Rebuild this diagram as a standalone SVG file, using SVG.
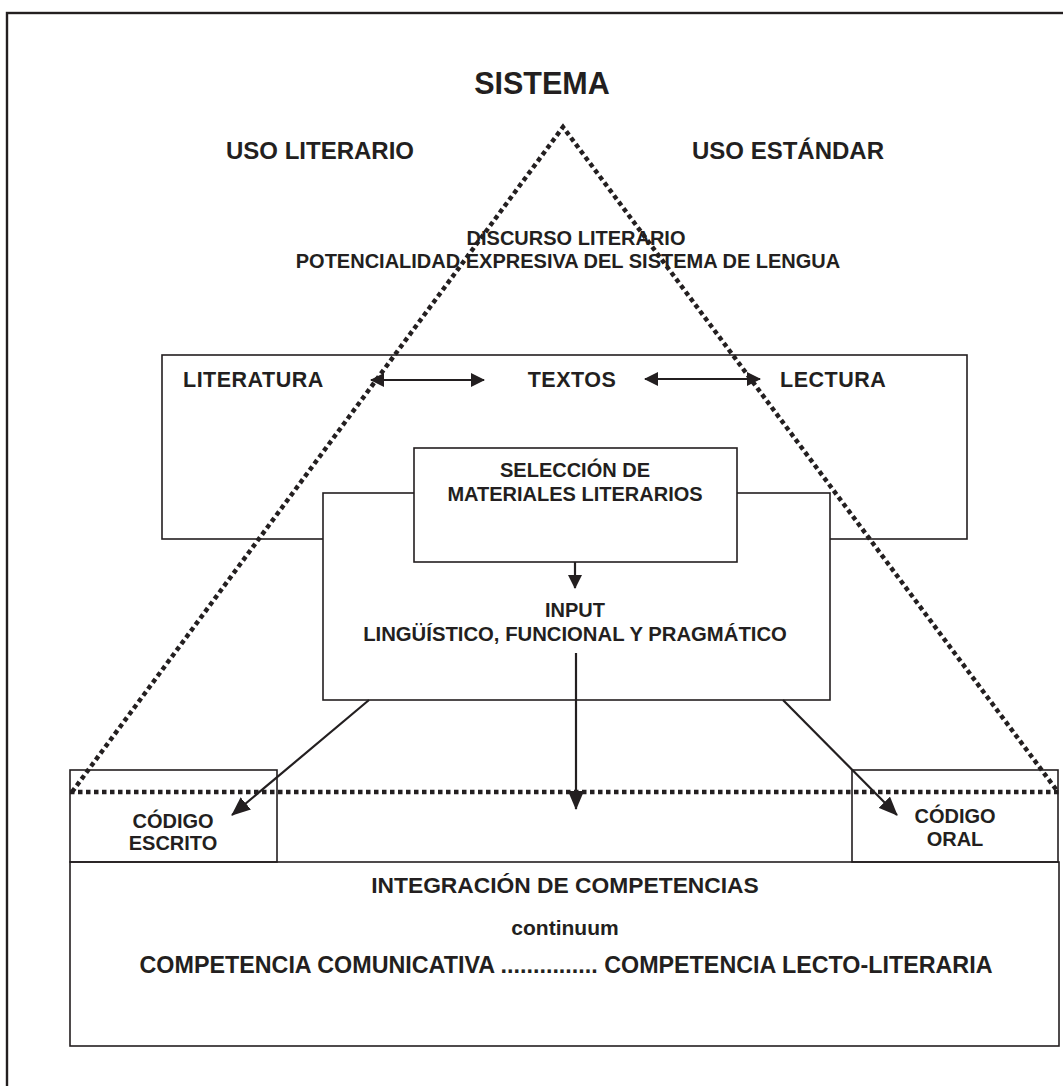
<svg xmlns="http://www.w3.org/2000/svg" width="1063" height="1086" viewBox="0 0 1063 1086">
  <style>
    .t { font-family: "Liberation Sans", Arial, sans-serif; font-weight: bold; fill: #231f20; }
    .box { fill: #ffffff; stroke: #231f20; stroke-width: 1.6; }
    .open { fill: none; stroke: #231f20; stroke-width: 1.6; }
    .dots { fill: none; stroke: #231f20; stroke-width: 4.5; stroke-dasharray: 4.5 3.5; }
    .arr { fill: none; stroke: #231f20; stroke-width: 2.2; }
  </style>
  <defs>
    <marker id="head" viewBox="0 0 14 14" refX="13" refY="7" markerWidth="14" markerHeight="14" markerUnits="userSpaceOnUse" orient="auto-start-reverse">
      <path d="M0,0 L14,7 L0,14 Z" fill="#231f20"/>
    </marker>
    <marker id="bighead" viewBox="0 0 19 16" refX="18" refY="8" markerWidth="19" markerHeight="16" markerUnits="userSpaceOnUse" orient="auto">
      <path d="M0,0 L19,8 L0,16 Z" fill="#231f20"/>
    </marker>
  </defs>

  <rect width="1063" height="1086" fill="#ffffff"/>
  <!-- outer frame -->
  <rect x="7" y="13" width="1070" height="1090" fill="none" stroke="#231f20" stroke-width="2.4"/>

  <!-- headings -->
  <g id="sistema"><text class="t" x="542" y="94" font-size="30.5" text-anchor="middle">SISTEMA</text></g>
  <g id="uso-literario"><text class="t" x="320" y="159" font-size="24" text-anchor="middle">USO LITERARIO</text></g>
  <g id="uso-estandar"><text class="t" x="788" y="159" font-size="24" text-anchor="middle">USO ESTÁNDAR</text></g>
  <g id="discurso">
    <text class="t" x="576" y="245" font-size="20" text-anchor="middle">DISCURSO LITERARIO</text>
    <text class="t" x="568" y="268" font-size="20" text-anchor="middle">POTENCIALIDAD EXPRESIVA DEL SISTEMA DE LENGUA</text>
  </g>

  <!-- textos frame -->
  <g id="textos-frame">
    <rect class="open" x="162" y="355" width="805" height="184"/>
    <text class="t" x="183" y="387" font-size="21.5" letter-spacing="0.5">LITERATURA</text>
    <text class="t" x="572" y="387" font-size="21.5" letter-spacing="0.5" text-anchor="middle">TEXTOS</text>
    <text class="t" x="780" y="387" font-size="21.5" letter-spacing="0.5">LECTURA</text>
  </g>

  <!-- input box -->
  <g id="input">
    <rect class="box" x="323" y="493" width="507" height="207"/>
    <text class="t" x="575" y="617" font-size="20" text-anchor="middle">INPUT</text>
    <text class="t" x="575" y="641" font-size="20.3" text-anchor="middle">LINGÜÍSTICO, FUNCIONAL Y PRAGMÁTICO</text>
  </g>

  <!-- selection box -->
  <g id="seleccion">
    <rect class="box" x="414" y="448" width="323" height="114"/>
    <text class="t" x="575" y="477" font-size="20" text-anchor="middle">SELECCIÓN DE</text>
    <text class="t" x="575" y="501" font-size="20" text-anchor="middle">MATERIALES LITERARIOS</text>
  </g>

  <!-- bottom boxes -->
  <g id="codigo-escrito">
    <rect class="open" x="70" y="770" width="207" height="92"/>
    <text class="t" x="173" y="828" font-size="20" text-anchor="middle">CÓDIGO</text>
    <text class="t" x="173" y="850" font-size="20" text-anchor="middle">ESCRITO</text>
  </g>
  <g id="codigo-oral">
    <rect class="open" x="852" y="770" width="206" height="92"/>
    <text class="t" x="955" y="823" font-size="20" text-anchor="middle">CÓDIGO</text>
    <text class="t" x="955" y="846" font-size="20" text-anchor="middle">ORAL</text>
  </g>
  <g id="integracion">
    <rect class="open" x="70" y="862" width="989" height="184"/>
    <text class="t" x="565" y="893" font-size="22.8" text-anchor="middle">INTEGRACIÓN DE COMPETENCIAS</text>
    <text class="t" x="565" y="935" font-size="21" text-anchor="middle">continuum</text>
    <text class="t" x="566" y="973" font-size="23.3" text-anchor="middle">COMPETENCIA COMUNICATIVA ............... COMPETENCIA LECTO-LITERARIA</text>
  </g>

  <!-- connectors -->
  <g id="connectors">
    <line class="arr" x1="371" y1="380" x2="484" y2="380" marker-start="url(#head)" marker-end="url(#head)"/>
    <line class="arr" x1="645" y1="379" x2="760" y2="379" marker-start="url(#head)" marker-end="url(#head)"/>
    <line class="arr" x1="575" y1="562" x2="575" y2="588" marker-end="url(#head)"/>
    <line class="arr" x1="576" y1="653" x2="576" y2="809" marker-end="url(#bighead)"/>
    <line class="arr" x1="369" y1="700" x2="232" y2="815" marker-end="url(#bighead)"/>
    <line class="arr" x1="783" y1="700" x2="897" y2="815" marker-end="url(#bighead)"/>
  </g>

  <!-- dotted triangle -->
  <g id="triangle">
    <path class="dots" d="M72,792 L563,127 L1058,792"/>
    <line class="dots" x1="70" y1="792" x2="1062" y2="792"/>
  </g>
</svg>
